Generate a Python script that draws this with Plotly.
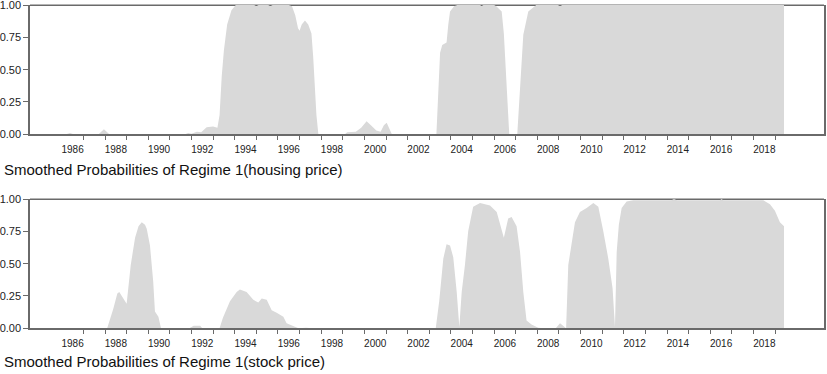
import plotly.graph_objects as go

# ---- data (decimal year, smoothed probability) ----
housing_t = [1985.0, 1986.2, 1986.38, 1986.55, 1987.7, 1987.95, 1988.2, 1991.7, 1991.85, 1992.0,
             1992.25, 1992.45, 1992.7, 1993.0, 1993.2, 1993.3, 1993.4, 1993.5, 1993.65, 1993.85,
             1994.05, 1994.9, 1995.0, 1995.1, 1995.55, 1995.65, 1995.75, 1996.5, 1996.65, 1996.8,
             1996.93, 1997.0, 1997.1, 1997.25, 1997.4, 1997.55, 1997.63, 1997.7, 1997.78, 1997.87,
             1999.1, 1999.2, 1999.6, 1999.85, 2000.1, 2000.3, 2000.55, 2000.75, 2000.9, 2001.03,
             2001.15, 2001.27, 2003.33, 2003.42, 2003.5, 2003.6, 2003.8, 2003.88, 2003.96, 2004.15,
             2004.3, 2005.35, 2005.42, 2005.5, 2006.0, 2006.1, 2006.25, 2006.35, 2006.45, 2006.58,
             2006.7, 2007.07, 2007.2, 2007.35, 2007.58, 2007.95, 2008.95, 2009.05, 2009.15, 2019.41]
housing_p = [0.0, 0.0, 0.01, 0.0, 0.0, 0.04, 0.0, 0.0, 0.01, 0.005,
             0.02, 0.015, 0.055, 0.06, 0.05, 0.15, 0.45, 0.65, 0.85, 0.96,
             1.0, 1.0, 0.99, 1.0, 1.0, 0.99, 1.0, 1.0, 0.99, 0.92,
             0.82, 0.8, 0.85, 0.88, 0.85, 0.78, 0.6, 0.35, 0.15, 0.0,
             0.0, 0.015, 0.02, 0.05, 0.1, 0.07, 0.03, 0.02, 0.07, 0.09,
             0.05, 0.0, 0.0, 0.4, 0.63, 0.69, 0.71, 0.85, 0.95, 0.99,
             1.0, 1.0, 0.99, 1.0, 1.0, 0.99, 0.97, 0.95, 0.78, 0.4,
             0.0, 0.0, 0.4, 0.77, 0.95, 1.0, 1.0, 0.99, 1.0, 1.0]

stock_t = [1985.0, 1986.3, 1986.4, 1986.6, 1987.0, 1987.8, 1988.1, 1988.38, 1988.57, 1988.66,
           1988.85, 1989.0, 1989.19, 1989.39, 1989.55, 1989.7, 1989.85, 1989.93, 1990.08, 1990.23,
           1990.31, 1990.47, 1990.59, 1990.9, 1991.5, 1991.9, 1992.1, 1992.4, 1992.5, 1993.3,
           1993.45, 1993.78, 1994.09, 1994.24, 1994.55, 1994.86, 1995.09, 1995.25, 1995.48, 1995.71,
           1995.94, 1996.25, 1996.4, 1996.7, 1996.95, 1997.3, 1997.6, 2003.3, 2003.46, 2003.65,
           2003.8, 2003.96, 2004.11, 2004.27, 2004.39, 2004.5, 2004.65, 2004.8, 2005.03, 2005.35,
           2005.81, 2006.12, 2006.35, 2006.45, 2006.65, 2006.81, 2007.04, 2007.2, 2007.35, 2007.5,
           2007.73, 2008.04, 2008.3, 2008.85, 2009.05, 2009.25, 2009.33, 2009.43, 2009.58, 2009.74,
           2009.97, 2010.28, 2010.59, 2010.82, 2011.05, 2011.28, 2011.48, 2011.59, 2011.67, 2011.77,
           2011.9, 2012.13, 2012.44, 2014.2, 2014.32, 2014.45, 2016.45, 2016.52, 2016.6, 2018.45,
           2018.76, 2018.99, 2019.22, 2019.41]
stock_p = [0.0, 0.0, 0.005, 0.0, 0.004, 0.003, 0.0, 0.15, 0.27, 0.28,
           0.23, 0.19, 0.49, 0.7, 0.79, 0.82, 0.8, 0.77, 0.64, 0.36,
           0.13, 0.09, 0.0, 0.003, 0.003, 0.0, 0.02, 0.02, 0.0, 0.0,
           0.08, 0.21, 0.28, 0.3, 0.28, 0.22, 0.2, 0.23, 0.22, 0.14,
           0.12, 0.09, 0.04, 0.02, 0.0, 0.005, 0.0, 0.0, 0.21, 0.54,
           0.65, 0.64, 0.55, 0.28, 0.01, 0.28, 0.49, 0.75, 0.94, 0.97,
           0.95, 0.9, 0.75, 0.7, 0.85, 0.86, 0.79, 0.59, 0.28, 0.06,
           0.03, 0.005, 0.0, 0.0, 0.04, 0.01, 0.0, 0.49, 0.64, 0.82,
           0.9, 0.93, 0.97, 0.94, 0.75, 0.54, 0.31, 0.01, 0.59, 0.8,
           0.93, 0.98, 0.99, 0.99, 1.0, 0.99, 0.99, 1.0, 0.99, 0.99,
           0.96, 0.91, 0.82, 0.79]

label_years = [1986, 1988, 1990, 1992, 1994, 1996, 1998, 2000, 2002, 2004,
               2006, 2008, 2010, 2012, 2014, 2016, 2018]
tick_years = list(range(1987, 2020))
y_ticks = [0.0, 0.25, 0.5, 0.75, 1.0]
y_ticktext = ["0.00", "0.25", "0.50", "0.75", "1.00"]
titles = ["Smoothed Probabilities of Regime 1(housing price)",
          "Smoothed Probabilities of Regime 1(stock price)"]

W, H = 827, 374
FILL = "#d9d9d9"
LINE = "#6a6a6a"
TXT = "#222222"

fig = go.Figure()
fig.add_trace(go.Scatter(x=housing_t, y=housing_p, mode="lines", line=dict(width=0, color=FILL),
                         fill="tozeroy", fillcolor=FILL, xaxis="x", yaxis="y", showlegend=False,
                         hoverinfo="skip"))
fig.add_trace(go.Scatter(x=stock_t, y=stock_p, mode="lines", line=dict(width=0, color=FILL),
                         fill="tozeroy", fillcolor=FILL, xaxis="x2", yaxis="y2", showlegend=False,
                         hoverinfo="skip"))

xdom = [30 / W, 824 / W]
ydom_top = [1 - 134.3 / H, 1 - 5 / H]
ydom_bot = [1 - 328.3 / H, 1 - 199 / H]
xrange_ = [1984.53, 2021.26]

lab_vals = [y + 0.5 for y in label_years]
lab_text = [str(y) for y in label_years]

def xaxis_cfg(anchor):
    return dict(domain=xdom, range=xrange_, anchor=anchor, showgrid=False, zeroline=False,
                automargin=False, ticklabeloverflow="allow",
                showline=True, linecolor=LINE, linewidth=1.5, mirror=False,
                tickmode="array", tickvals=lab_vals, ticktext=lab_text, ticks="",
                ticklabelstandoff=5,
                tickfont=dict(family="Liberation Sans, Arial, sans-serif", size=10, color=TXT),
                minor=dict(tickmode="array", tickvals=tick_years, ticks="outside", ticklen=4,
                           tickwidth=1, tickcolor=LINE, showgrid=False))

def yaxis_cfg(anchor, dom):
    return dict(domain=dom, range=[0, 1], anchor=anchor, showgrid=False, zeroline=False,
                automargin=False, ticklabeloverflow="allow",
                showline=True, linecolor=LINE, linewidth=1.5, mirror=True,
                tickmode="array", tickvals=y_ticks, ticktext=y_ticktext, ticks="outside",
                ticklen=5, tickcolor=LINE, tickwidth=1,
                tickfont=dict(family="Liberation Sans, Arial, sans-serif", size=11, color=TXT))

fig.update_layout(
    width=W, height=H, margin=dict(l=0, r=0, t=0, b=0, pad=0, autoexpand=False),
    paper_bgcolor="white", plot_bgcolor="white",
    xaxis=xaxis_cfg("y"), yaxis=yaxis_cfg("x", ydom_top),
    xaxis2=xaxis_cfg("y2"), yaxis2=yaxis_cfg("x2", ydom_bot),
)

# top frame lines drawn beneath the fill (as in the original, fill covers them at 1.0)
for xr, yr in (("x domain", "y domain"), ("x2 domain", "y2 domain")):
    fig.add_shape(type="line", xref=xr, yref=yr, x0=0, x1=1, y0=0.998, y1=0.998,
                  line=dict(color=LINE, width=1.5), layer="below")

title_font = dict(family="Liberation Sans, Arial, sans-serif", size=15, color="#111111")
fig.add_annotation(text=titles[0], xref="paper", yref="paper", x=2 / W, y=1 - 169 / H,
                   xanchor="left", yanchor="middle", showarrow=False, font=title_font)
fig.add_annotation(text=titles[1], xref="paper", yref="paper", x=2 / W, y=1 - 361 / H,
                   xanchor="left", yanchor="middle", showarrow=False, font=title_font)

fig.write_html("out.html", config={"displayModeBar": False},
               post_script="document.body.style.margin='0';document.body.style.overflow='hidden';")
